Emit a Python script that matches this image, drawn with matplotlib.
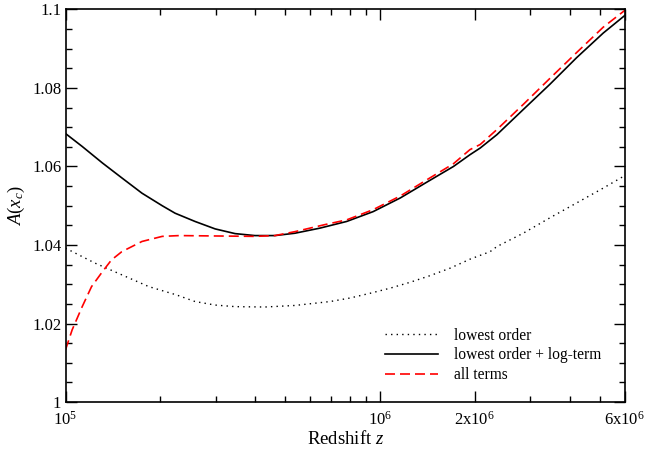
import numpy as np
import matplotlib.pyplot as plt
from matplotlib.ticker import FixedLocator, NullFormatter

plt.rcParams['font.family'] = 'Liberation Serif'
plt.rcParams['mathtext.fontset'] = 'custom'
plt.rcParams['mathtext.rm'] = 'Liberation Serif'
plt.rcParams['mathtext.it'] = 'Liberation Serif:italic'

# lowest order
z_low = [1e5, 1.24e5, 1.51e5, 1.84e5, 2.25e5, 2.58e5, 2.99e5, 3.46e5, 4.3e5,
         5.36e5, 6.94e5, 8.03e5, 9.29e5, 1.076e6, 1.245e6, 1.442e6, 1.669e6,
         1.932e6, 2.236e6, 2.35e6, 2.85e6, 3.46e6, 4.21e6, 5.12e6, 6e6]
a_low = [1.0392, 1.0354, 1.0324, 1.0294, 1.0273, 1.0256, 1.0247, 1.0243, 1.0242,
         1.0246, 1.0256, 1.0265, 1.0277, 1.0290, 1.0305, 1.0322, 1.0341,
         1.0364, 1.0383, 1.0396, 1.0430, 1.0469, 1.0507, 1.0545, 1.0577]

# lowest order + log-term
z_log = [1e5, 1.13e5, 1.31e5, 1.51e5, 1.75e5, 2.03e5, 2.23e5, 2.58e5, 2.99e5,
         3.46e5, 4.0e5, 4.63e5, 5.36e5, 6.44e5, 7.83e5, 9.5e5, 1.16e6, 1.4e6,
         1.71e6, 1.93e6, 2.08e6, 2.35e6, 2.85e6, 3.46e6, 4.21e6, 5.12e6, 6e6]
a_log = [1.0684, 1.0651, 1.0609, 1.0571, 1.0532, 1.0500, 1.0481, 1.0460, 1.0441,
         1.0429, 1.0424, 1.0424, 1.0430, 1.0443, 1.0460, 1.0485, 1.0520, 1.0559,
         1.0600, 1.0630, 1.0647, 1.0681, 1.0745, 1.0809, 1.0877, 1.0940, 1.0985]

# all terms
z_all = [1e5, 1.05e5, 1.13e5, 1.21e5, 1.31e5, 1.4e5, 1.51e5, 1.75e5, 2.03e5,
         2.3e5, 3.0e5, 4.0e5, 4.63e5, 5.36e5, 6.68e5, 7.83e5, 9.5e5, 1.16e6,
         1.4e6, 1.71e6, 1.93e6, 2.08e6, 2.35e6, 2.85e6, 3.46e6, 4.21e6, 5.12e6, 6e6]
a_all = [1.0133, 1.0184, 1.0243, 1.0294, 1.0332, 1.0362, 1.0383, 1.0409, 1.0422,
         1.0424, 1.0423, 1.0422, 1.0424, 1.0434, 1.0452, 1.0464, 1.0490, 1.0525,
         1.0565, 1.0607, 1.0643, 1.0656, 1.0694, 1.0758, 1.0824, 1.0890, 1.0955, 1.0998]

fig = plt.figure(figsize=(6.46, 4.51), dpi=100)
ax = fig.add_axes([0.1014, 0.1086, 0.866, 0.8704])

ax.plot(z_low, a_low, color='black', lw=1.0, ls=(0, (1, 3)), label='lowest order')
ax.plot(z_log, a_log, color='black', lw=1.2, label='lowest order + log-term')
ax.plot(z_all, a_all, color='red', lw=1.2, ls=(0, (6, 3)), label='all terms')

ax.set_xscale('log')
ax.set_xlim(1e5, 6e6)
ax.set_ylim(1.0, 1.1)

ax.xaxis.set_major_locator(FixedLocator([1e5, 1e6, 2e6, 6e6]))
ax.set_xticklabels(['10$^{5}$', '10$^{6}$', '2x10$^{6}$', '6x10$^{6}$'])
ax.xaxis.set_minor_locator(FixedLocator([2e5, 3e5, 4e5, 5e5, 6e5, 7e5, 8e5, 9e5,
                                         3e6, 4e6, 5e6]))
ax.xaxis.set_minor_formatter(NullFormatter())

ax.set_yticks([1.0, 1.02, 1.04, 1.06, 1.08, 1.1])
ax.set_yticklabels(['1', '1.02', '1.04', '1.06', '1.08', '1.1'])
ax.set_yticks(np.arange(1.0, 1.1001, 0.005), minor=True)

ax.tick_params(which='both', direction='in', top=True, right=True,
               labelsize=12, width=1.0)
ax.tick_params(which='major', length=8)
ax.tick_params(which='minor', length=4.5)
ax.tick_params(axis='x', pad=6)
ax.tick_params(axis='y', pad=3)
for s in ax.spines.values():
    s.set_linewidth(1.2)

ax.set_xlabel('Redshift $z$', fontsize=13.5, labelpad=1)
ax.set_ylabel('$A(x_c)$', fontsize=13.5, labelpad=4)

ax.legend(loc='lower right', bbox_to_anchor=(0.982, 0.012), frameon=False,
          fontsize=11.2, handlelength=3.4, handletextpad=1.0, labelspacing=0.25)

fig.savefig('out.png', dpi=100)
